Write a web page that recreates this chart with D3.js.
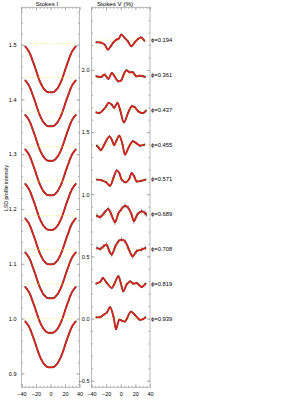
<!DOCTYPE html>
<html><head><meta charset="utf-8">
<script src="https://cdn.jsdelivr.net/npm/d3@7"></script>
<style>body{margin:0;background:#fff} svg text{font-family:"Liberation Sans",Arial,sans-serif}</style>
</head><body><svg id="c" width="300" height="400"></svg>
<script>
// ---- data ----
const phases = ["0.194","0.361","0.437","0.455","0.571","0.689","0.708","0.819","0.939"];
const velI = [-35,-32.5,-30,-27.5,-25,-22.5,-20,-17.5,-15,-12.5,-10,-7.5,-5,-2.5,0,2.5,5,7.5,10,12.5,15,17.5,20,22.5,25,27.5,30,32.5,35];
const stokesI = [0.995,0.991,0.986,0.979,0.970,0.961,0.951,0.941,0.932,0.925,0.919,0.915,0.912,0.911,0.911,0.911,0.912,0.915,0.919,0.925,0.932,0.941,0.951,0.961,0.970,0.979,0.986,0.991,0.995];
const offsetI = [0.502,0.440,0.377,0.314,0.251,0.188,0.126,0.063,0.0];
const offsetV = [2.24,1.96,1.68,1.40,1.12,0.84,0.56,0.28,0.0];
const errV = [0.008,0.010,0.010,0.010,0.010,0.022,0.020,0.010,0.010];
const v194 = [[-33.6,-0.018],[-27,-0.020],[-22,-0.036],[-17.6,-0.076],[-13,-0.044],[-10.5,-0.022],[-6,0.004],[-3,0.010],[0.7,0.044],[5.3,0.018],[9.8,-0.010],[14.3,-0.050],[18.9,-0.020],[23.4,0.008],[27.5,0.022],[32.5,-0.006]];
const v361 = [[-33.6,-0.011],[-26.8,-0.016],[-22.2,0.002],[-16.8,-0.032],[-12.3,0.016],[-8.5,-0.011],[-3.7,-0.051],[0.8,-0.043],[3,-0.011],[7.5,0.037],[12.1,0.021],[16.6,0.021],[21.1,-0.011],[25.7,-0.006],[30.2,-0.011],[33.3,-0.016]];
const v437 = [[-33.6,-0.021],[-29,-0.026],[-23.6,0.001],[-20,0.027],[-16.8,0.055],[-12.3,0.041],[-9,0.015],[-4.6,0.055],[-1,0.001],[4.4,-0.102],[10,-0.026],[14.8,0.027],[19.3,0.020],[24,-0.013],[30.8,-0.026],[34.5,-0.007]];
const v455 = [[-32.8,-0.009],[-30,-0.027],[-27,-0.046],[-22.6,-0.001],[-15.5,0.066],[-12,0.035],[-9,-0.005],[-6,0.030],[-2,0.071],[2.5,-0.001],[5.8,-0.081],[10.5,-0.027],[16.2,0.026],[20.8,0.013],[26.2,-0.009],[32.5,-0.001]];
const v571 = [[-32.6,-0.002],[-26,-0.008],[-20,-0.024],[-14.6,-0.051],[-10,0.011],[-5.5,0.072],[-2,0.051],[1.3,-0.002],[7.1,-0.024],[11.6,0.003],[14.8,0.051],[18.4,0.024],[21.6,-0.016],[28.4,-0.011],[34,-0.002]];
const v689 = [[-32.6,-0.012],[-28,-0.023],[-22.6,0.010],[-17,0.042],[-12.8,-0.004],[-7.8,-0.066],[-3.4,0.004],[1.2,0.042],[5.8,0.068],[10.3,0.050],[14.8,-0.004],[18,-0.058],[22.6,-0.004],[28.5,0.023],[33,0.010],[35,-0.004]];
const v708 = [[-32.6,0.008],[-28,0.000],[-23.6,0.021],[-19.5,0.035],[-15.5,-0.019],[-12.3,-0.046],[-7.8,0.016],[-3.3,0.061],[1.2,0.075],[5.8,0.061],[10.3,0.008],[16.2,-0.060],[21.6,-0.019],[28.4,-0.006],[34,0.008]];
const v819 = [[-33.6,0.001],[-27.6,0.019],[-24.5,0.047],[-19.6,0.011],[-12.3,-0.034],[-9.2,-0.007],[-3.3,0.060],[0,0.006],[3.5,-0.061],[8,-0.007],[12.7,0.019],[17.3,0.001],[21.8,0.006],[28.5,-0.026],[34,0.001]];
const v939 = [[-33.6,0.011],[-28.2,0.011],[-23.6,0.030],[-19.1,0.048],[-14.6,0.092],[-10,0.016],[-6.4,-0.085],[-2,-0.010],[1.2,-0.016],[5.8,-0.024],[8,-0.005],[13.9,0.056],[19.3,0.030],[26,-0.010],[30.5,-0.005],[34,0.011]];
const stokesV = [v194,v361,v437,v455,v571,v689,v708,v819,v939];
const xTicks = [-40,-20,0,20,40];
const yTicksI = [0.9,1.0,1.1,1.2,1.3,1.4,1.5];
const yTicksV = [-0.5,0.0,0.5,1.0,1.5,2.0];

// ---- layout ----
const svg = d3.select("#c");
const yTop = 7.3, yBot = 387.3;
const xI = d3.scaleLinear().domain([-40,40]).range([21.5,79.5]);
const xV = d3.scaleLinear().domain([-40,40]).range([91.5,150]);
const yI = d3.scaleLinear().domain([0.8745,1.5682]).range([yBot,yTop]);
const yV = d3.scaleLinear().domain([-0.553,2.504]).range([yBot,yTop]);
const FS = 5.5, AX = "#aaa";

function frame(x, y, yMajor, yMinor, fmt, pad) {
  const g = svg.append("g");
  const x0 = x.range()[0], x1 = x.range()[1];
  const mk = (sel) => { sel.select(".domain").remove(); sel.selectAll("line").attr("stroke", AX); sel.selectAll("text").attr("fill","#000").style("font-size", FS+"px"); };
  const xMinor = d3.range(-40, 40.01, 5);
  g.append("g").attr("transform",`translate(0,${yBot})`).call(d3.axisBottom(x).tickValues(xMinor).tickSize(-1.5).tickFormat("")).call(mk);
  g.append("g").attr("transform",`translate(0,${yTop})`).call(d3.axisTop(x).tickValues(xMinor).tickSize(-1.5).tickFormat("")).call(mk);
  g.append("g").attr("transform",`translate(${x0},0)`).call(d3.axisLeft(y).tickValues(yMinor).tickSize(-1.5).tickFormat("")).call(mk);
  g.append("g").attr("transform",`translate(${x1},0)`).call(d3.axisRight(y).tickValues(yMinor).tickSize(-1.5).tickFormat("")).call(mk);
  g.append("g").attr("transform",`translate(0,${yBot})`).call(d3.axisBottom(x).tickValues(xTicks).tickSize(-3).tickPadding(4.5).tickFormat(d3.format("d"))).call(mk);
  g.append("g").attr("transform",`translate(0,${yTop})`).call(d3.axisTop(x).tickValues(xTicks).tickSize(-3).tickFormat("")).call(mk);
  g.append("g").attr("transform",`translate(${x0},0)`).call(d3.axisLeft(y).tickValues(yMajor).tickSize(-3).tickPadding(pad).tickFormat(fmt)).call(mk);
  g.append("g").attr("transform",`translate(${x1},0)`).call(d3.axisRight(y).tickValues(yMajor).tickSize(-3).tickFormat("")).call(mk);
  g.append("rect").attr("x",x0).attr("y",yTop).attr("width",x1-x0).attr("height",yBot-yTop)
    .attr("fill","none").attr("stroke",AX).attr("stroke-width",0.8);
}
frame(xI, yI, yTicksI, d3.range(0.88,1.561,0.02), d3.format(".1f"), 5);
frame(xV, yV, yTicksV, d3.range(-0.5,2.501,0.1), d3.format(".1f"), 2);

// ---- Stokes I ----
const lineI = d3.line().x(d=>xI(d[0])).y(d=>yI(d[1])).curve(d3.curveCatmullRom);
offsetI.forEach((off,k) => {
  const pts = velI.map((v,i)=>[v, stokesI[i]+off]);
  svg.append("line").attr("x1",xI(-35)).attr("x2",xI(35)).attr("y1",yI(1+off)).attr("y2",yI(1+off))
    .attr("stroke","#f2ec70").attr("stroke-width",0.8).attr("stroke-dasharray","1,1.2");
  svg.append("path").attr("d",lineI(pts)).attr("fill","none").attr("stroke","#444").attr("stroke-width",1.9);
  svg.append("g").selectAll("circle").data(pts).join("circle").attr("cx",d=>xI(d[0])).attr("cy",d=>yI(d[1])).attr("r",0.8).attr("fill","#333");
  svg.append("path").attr("d",lineI(pts)).attr("fill","none").attr("stroke","#ff1a10").attr("stroke-width",1.3);
});

// ---- Stokes V ----
const lineV = d3.line().x(d=>xV(d[0])).y(d=>yV(d[1])).curve(d3.curveCatmullRom);
stokesV.forEach((prof,k) => {
  const off = offsetV[k];
  const pts = prof.map(d=>[d[0], d[1]+off]);
  svg.append("line").attr("x1",xV(-35)).attr("x2",xV(35)).attr("y1",yV(off)).attr("y2",yV(off))
    .attr("stroke","#f2ec70").attr("stroke-width",0.8).attr("stroke-dasharray","1,1.2");
  svg.append("g").selectAll("line").data(pts).join("line")
    .attr("x1",d=>xV(d[0])).attr("x2",d=>xV(d[0]))
    .attr("y1",d=>yV(d[1]-errV[k])).attr("y2",d=>yV(d[1]+errV[k]))
    .attr("stroke","#999").attr("stroke-width",0.8);
  svg.append("path").attr("d",lineV(pts)).attr("fill","none").attr("stroke","#444").attr("stroke-width",1.9);
  svg.append("g").selectAll("circle").data(pts).join("circle").attr("cx",d=>xV(d[0])).attr("cy",d=>yV(d[1])).attr("r",0.8).attr("fill","#333");
  svg.append("path").attr("d",lineV(pts)).attr("fill","none").attr("stroke","#ff1a10").attr("stroke-width",1.3);
  svg.append("text").attr("x",151).attr("y",yV(off)).attr("dy","0.35em")
    .style("font-size","5.8px").attr("fill","#000").text("\u03D5=" + phases[k]);
});

// ---- titles ----
svg.append("text").attr("x",47).attr("y",5.6).attr("text-anchor","middle").style("font-size","6.2px").text("Stokes I");
svg.append("text").attr("x",115).attr("y",5.6).attr("text-anchor","middle").style("font-size","6.2px").text("Stokes V (%)");
svg.append("text").attr("transform","translate(7.8,188) rotate(-90)").attr("text-anchor","middle")
  .style("font-size","5.2px").text("LSD profile intensity");
</script></body></html>
